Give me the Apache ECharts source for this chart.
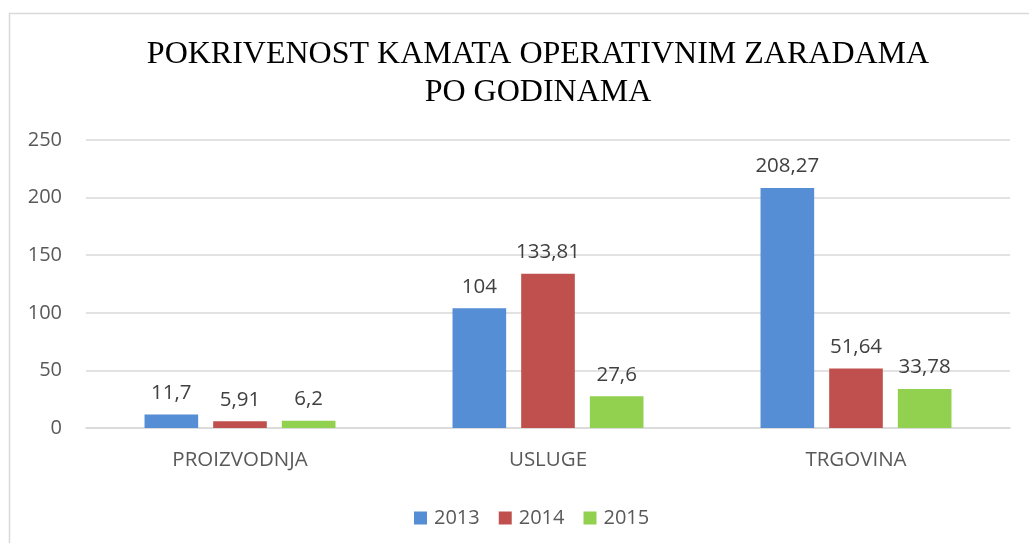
<!DOCTYPE html>
<html>
<head>
<meta charset="utf-8">
<script src="https://cdn.jsdelivr.net/npm/echarts@6/dist/echarts.min.js"></script>
<style>
  html, body { margin: 0; padding: 0; background: #fff; }
  #chart { width: 1029px; height: 543px; }
</style>
</head>
<body>
<div id="chart"></div>
<script>
// Sectors on the category axis
const categories = ['PROIZVODNJA', 'USLUGE', 'TRGOVINA'];
// Interest coverage by operating earnings, per year
const years = ['2013', '2014', '2015'];
const values2013 = [11.7, 104, 208.27];
const values2014 = [5.91, 133.81, 51.64];
const values2015 = [6.2, 27.6, 33.78];
const yTicks = { min: 0, max: 250, interval: 50 };

const colors = ['#558ED5', '#C0504D', '#92D050'];
const labelFont = '"Open Sans", "Noto Sans", sans-serif';

// Decimal comma, as in the local number format
const fmt = v => String(v).replace('.', ',');

function barSeries(name, data, color) {
  return {
    name: name,
    type: 'bar',
    data: data,
    itemStyle: { color: color },
    barGap: '28%',
    barCategoryGap: '38%',
    label: {
      show: true,
      position: 'top',
      distance: 11,
      color: '#404040',
      fontFamily: labelFont,
      fontSize: 20.5,
      formatter: p => fmt(p.value)
    }
  };
}

const chart = echarts.init(document.getElementById('chart'), null, { renderer: 'canvas' });
chart.setOption({
  backgroundColor: '#ffffff',
  animation: false,
  graphic: [{
    type: 'rect',
    shape: { x: 9.5, y: 13.5, width: 1100, height: 600 },
    style: { fill: 'none', stroke: '#d9d9d9', lineWidth: 1.5 },
    silent: true
  }],
  title: {
    text: 'POKRIVENOST KAMATA OPERATIVNIM ZARADAMA\nPO GODINAMA',
    left: 533,
    top: 31,
    textAlign: 'center',
    textStyle: {
      fontFamily: '"Liberation Serif", "Times New Roman", serif',
      fontWeight: 'normal',
      fontSize: 32,
      lineHeight: 38,
      color: '#000000'
    }
  },
  legend: {
    data: years,
    left: 409,
    top: 503,
    itemWidth: 13,
    itemHeight: 13,
    itemGap: 19,
    icon: 'rect',
    textStyle: { fontFamily: labelFont, fontSize: 20, color: '#595959', padding: [0, 0, 0, 2] }
  },
  grid: { left: 86, right: 19, top: 140, bottom: 115 },
  xAxis: {
    type: 'category',
    data: categories,
    axisLine: { lineStyle: { color: '#d9d9d9', width: 1.5 } },
    axisTick: { show: false },
    axisLabel: { color: '#595959', fontFamily: labelFont, fontSize: 20.5, margin: 22 }
  },
  yAxis: {
    type: 'value',
    min: yTicks.min,
    max: yTicks.max,
    interval: yTicks.interval,
    axisLine: { show: false },
    axisTick: { show: false },
    splitLine: { lineStyle: { color: '#d9d9d9', width: 1.5 } },
    axisLabel: { color: '#595959', fontFamily: labelFont, fontSize: 20, margin: 24 }
  },
  series: [
    barSeries(years[0], values2013, colors[0]),
    barSeries(years[1], values2014, colors[1]),
    barSeries(years[2], values2015, colors[2])
  ]
});
</script>
</body>
</html>
